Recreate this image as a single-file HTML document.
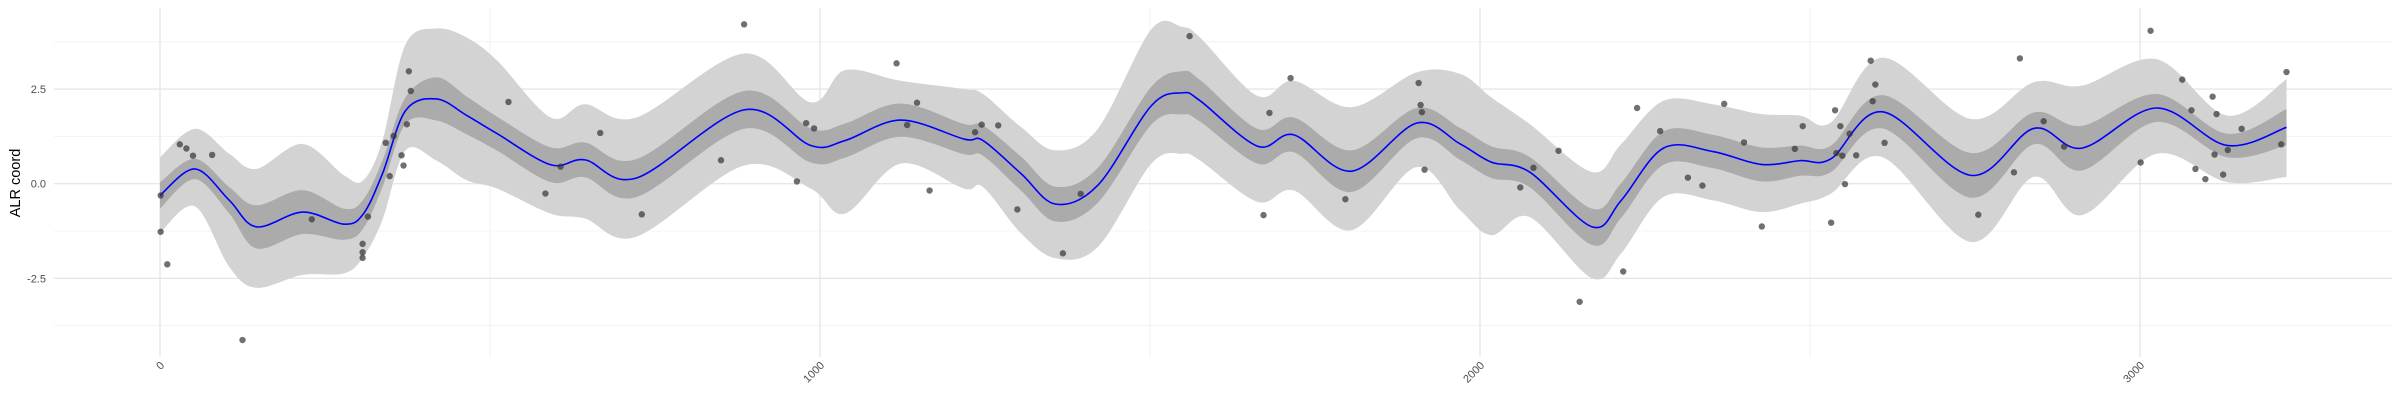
<!DOCTYPE html>
<html><head><meta charset="utf-8"><style>
html,body{margin:0;padding:0;background:#fff}
svg{display:block}
text{font-family:"Liberation Sans",sans-serif}
</style></head><body>
<svg id="chart" width="2400" height="400" viewBox="0 0 2400 400"></svg>
<script>
// ---- data ----
const knotX = [0,53,105,146,216,279,308,337,372,419,465,511,592,644,722,885,986,1038,1122,1218,1247,1305,1357,1421,1502,1549,1576,1663,1718,1805,1904,1970,2017,2075,2170,2214,2278,2353,2426,2485,2532,2610,2744,2839,2912,3025,3132,3222];
const meanV  = [-0.31,0.39,-0.44,-1.14,-0.75,-1.07,-0.8,0.26,1.93,2.24,1.80,1.32,0.5,0.63,0.15,1.95,1.01,1.14,1.68,1.18,1.14,0.26,-0.54,-0.04,2.06,2.4,2.19,0.99,1.29,0.33,1.6,1.05,0.57,0.31,-1.14,-0.44,0.94,0.85,0.51,0.61,0.66,1.9,0.22,1.46,0.94,2.0,1.01,1.49];
const innerHW= [0.35,0.27,0.35,0.57,0.58,0.41,0.38,0.35,0.35,0.57,0.5,0.45,0.46,0.46,0.5,0.5,0.45,0.45,0.44,0.4,0.4,0.45,0.46,0.46,0.5,0.57,0.55,0.46,0.46,0.55,0.4,0.42,0.42,0.4,0.48,0.46,0.44,0.44,0.45,0.4,0.35,0.44,0.59,0.42,0.59,0.37,0.31,0.48];
const outerHi= [0.70,1.45,0.79,0.39,1.05,0.22,0.09,1.14,3.68,4.1,3.86,3.25,1.75,2.1,1.75,3.44,2.15,3.0,2.72,2.5,2.37,1.49,0.88,1.45,4.08,4.14,3.86,2.32,2.72,2.02,2.94,2.9,2.28,1.58,0.31,1.05,2.19,2.1,1.84,1.8,1.62,3.33,1.71,2.68,2.59,3.29,1.8,2.76];
const outerLo= [-1.3,-0.6,-2.2,-2.75,-2.41,-2.37,-1.93,-0.96,0.88,0.61,0.09,-0.13,-0.79,-0.92,-1.4,0.48,-0.13,-0.79,0.53,-0.13,-0.09,-1.32,-1.97,-1.67,0.53,0.79,0.61,-0.48,-0.18,-1.23,0.44,-0.7,-1.36,-0.88,-2.5,-1.84,-0.35,-0.44,-0.75,-0.53,-0.26,0.7,-1.54,0.18,-0.83,0.79,0.04,0.18];
const ptX = [1,1,11,30,40,50,79,125,230,307,307,307,315,342,348,354,366,369,374,377,380,528,584,607,667,730,850,885,965,979,991,1116,1132,1147,1166,1235,1245,1270,1299,1368,1395,1560,1672,1681,1713,1796,1907,1910,1912,1916,2061,2081,2119,2151,2217,2238,2273,2315,2337,2370,2400,2427,2477,2489,2532,2538,2546,2540,2549,2553,2560,2570,2592,2599,2595,2613,2755,2809,2818,2854,2885,3001,3016,3064,3078,3084,3099,3110,3116,3113,3126,3133,3154,3214,3222];
const ptY = [-0.31,-1.27,-2.13,1.04,0.93,0.74,0.76,-4.13,-0.94,-1.59,-1.81,-1.96,-0.87,1.08,0.2,1.26,0.75,0.48,1.57,2.97,2.45,2.16,-0.26,0.45,1.34,-0.81,0.62,4.21,0.06,1.6,1.46,3.18,1.55,2.14,-0.18,1.36,1.56,1.54,-0.68,-1.84,-0.27,3.9,-0.83,1.87,2.79,-0.41,2.66,2.08,1.89,0.37,-0.1,0.42,0.87,-3.12,-2.32,2.0,1.39,0.16,-0.05,2.11,1.09,-1.13,0.92,1.52,-1.03,1.94,1.52,0.81,0.74,-0.01,1.32,0.75,3.25,2.62,2.18,1.08,-0.82,0.3,3.31,1.65,0.98,0.56,4.04,2.75,1.94,0.39,0.12,2.3,1.84,0.77,0.24,0.89,1.45,1.04,2.95];
const xTicks = [0,1000,2000,3000];
const xTickLabels = ["0","1000","2000","3000"];
const yTicks = [-2.5,0,2.5];
const yTickLabels = ["-2.5","0.0","2.5"];

// ---- scales ----
const sx = v => 160 + 0.66 * v;
const sy = v => 183.7 - 37.85 * v;
const NS = "http://www.w3.org/2000/svg";
const svg = document.getElementById('chart');
function mk(tag, attrs, parent){ const e=document.createElementNS(NS,tag); for(const k in attrs) e.setAttribute(k,attrs[k]); (parent||svg).appendChild(e); return e; }

// grid
const grid = mk('g',{});


for(let v=-3.75; v<=3.76; v+=1.25){
  const major = Math.abs((v/2.5)-Math.round(v/2.5))<1e-6;
  const l = mk('line',{x1:54,x2:2392,y1:sy(v),y2:sy(v),stroke:major?'#e6e6e6':'#f0f0f0','stroke-width':major?1.4:0.8},grid);
  
  
}
for(let v=0; v<=3500; v+=500){
  if(sx(v)>2392) break;
  const major = v%1000===0;
  const l = mk('line',{x1:sx(v),x2:sx(v),y1:8,y2:357,stroke:major?'#e6e6e6':'#f0f0f0','stroke-width':major?1.4:0.8},grid);
  
  
}

// smooth path through points (Catmull-Rom)
function crPath(pts, start){
  let d = start ? `M${pts[0][0]},${pts[0][1]}` : `L${pts[0][0]},${pts[0][1]}`;
  for(let i=0;i<pts.length-1;i++){
    const p0=pts[Math.max(0,i-1)], p1=pts[i], p2=pts[i+1], p3=pts[Math.min(pts.length-1,i+2)];
    const c1=[p1[0]+(p2[0]-p0[0])/6, p1[1]+(p2[1]-p0[1])/6];
    const c2=[p2[0]-(p3[0]-p1[0])/6, p2[1]-(p3[1]-p1[1])/6];
    d += `C${c1[0]},${c1[1]} ${c2[0]},${c2[1]} ${p2[0]},${p2[1]}`;
  }
  return d;
}
function band(lo, hi){
  const top = knotX.map((x,i)=>[sx(x), sy(hi[i])]);
  const bot = knotX.map((x,i)=>[sx(x), sy(lo[i])]).reverse();
  return crPath(top,true) + crPath(bot,false) + 'Z';
}
const oBand = mk('path',{d:band(outerLo,outerHi),fill:'#d3d3d3'});


const iLo = meanV.map((m,i)=>m-innerHW[i]);
const iHi = meanV.map((m,i)=>m+innerHW[i]);
const iBand = mk('path',{d:band(iLo,iHi),fill:'#ababab'});


const line = mk('path',{d:crPath(knotX.map((x,i)=>[sx(x),sy(meanV[i])]),true),fill:'none',stroke:'#0000ff','stroke-width':1.6});



// points
const pg = mk('g',{});


ptX.forEach((x,i)=>{
  const c = mk('circle',{cx:sx(x),cy:sy(ptY[i]),r:3.2,fill:'#333333','fill-opacity':0.7},pg);
  
  
});

// axes labels
xTicks.forEach((v,i)=>{
  const t = mk('text',{x:0,y:0,'font-size':11,fill:'#4d4d4d','text-anchor':'end',transform:`translate(${sx(v)+5},${366}) rotate(-45)`});
  t.textContent = xTickLabels[i];
  
  
});
yTicks.forEach((v,i)=>{
  const t = mk('text',{x:46,y:sy(v)+4,'font-size':11,fill:'#4d4d4d','text-anchor':'end'});
  t.textContent = yTickLabels[i];
  
  
});
const yt = mk('text',{x:0,y:0,'font-size':14.5,fill:'#000','text-anchor':'middle',transform:'translate(20,183) rotate(-90)'});
yt.textContent = 'ALR coord';


</script>
</body></html>
